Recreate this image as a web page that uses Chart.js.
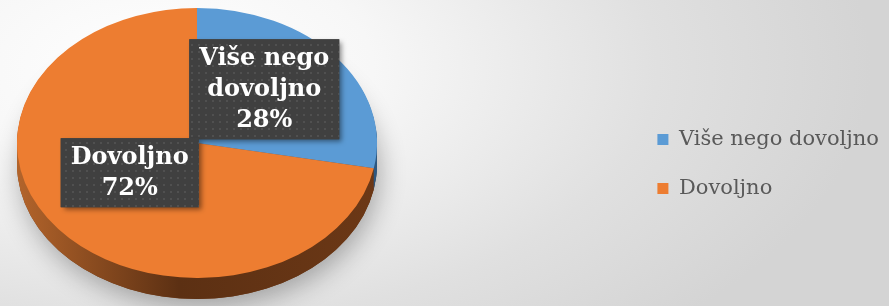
<!DOCTYPE html>
<html>
<head>
<meta charset="utf-8">
<script src="https://cdn.jsdelivr.net/npm/chart.js@4.4.0/dist/chart.umd.min.js"></script>
<style>
  html, body { margin: 0; padding: 0; }
  body {
    width: 889px; height: 306px; overflow: hidden;
    background: radial-gradient(ellipse 80% 120% at 18% 22%, #ffffff 0%, #f7f7f7 30%, #e0e0e0 70%, #d4d4d4 100%);
  }
</style>
</head>
<body>
<canvas id="pie" width="889" height="306"></canvas>
<script>
// data
const categories = ['Više nego dovoljno', 'Dovoljno'];
const percentValues = [28, 72];
const sliceColors = ['#5B9BD5', '#ED7D31'];
const sideStops = [['#4a7fb0', '#2c5780'], ['#b3642b', '#5c3013', '#6c3816']];

// where the tilted pie sits on the page
const PIE = { cx: 197, cy: 143, rx: 180, ry: 135, depth: 21 };
const labelFont = 'bold 24px "DejaVu Serif"';

function sideFill(ctx, i) {
  const g = ctx.createLinearGradient(PIE.cx - PIE.rx, 0, PIE.cx + PIE.rx, 0);
  const stops = sideStops[i];
  if (stops.length === 3) {
    g.addColorStop(0, stops[0]);
    g.addColorStop(0.45, stops[1]);
    g.addColorStop(1, stops[2]);
  } else {
    g.addColorStop(0, stops[0]);
    g.addColorStop(1, stops[1]);
  }
  return g;
}

// little dotted texture for the label boxes
function dotPattern(ctx) {
  const c = document.createElement('canvas');
  c.width = 7; c.height = 7;
  const p = c.getContext('2d');
  p.fillStyle = '#404040';
  p.fillRect(0, 0, 7, 7);
  p.fillStyle = '#505050';
  p.fillRect(2, 2, 2, 2);
  return ctx.createPattern(c, 'repeat');
}

function wrapWords(ctx, text, maxW) {
  const words = text.split(' ');
  const lines = [];
  let cur = '';
  words.forEach(w => {
    const t = cur ? cur + ' ' + w : w;
    if (cur && ctx.measureText(t).width > maxW) { lines.push(cur); cur = w; }
    else cur = t;
  });
  if (cur) lines.push(cur);
  return lines;
}

function drawLabels(chart) {
  const ctx = chart.ctx;
  const meta = chart.getDatasetMeta(0);
  const data = chart.data.datasets[0].data;
  ctx.save();
  ctx.font = labelFont;
  meta.data.forEach((arc, i) => {
    const mid = (arc.startAngle + arc.endAngle) / 2;
    const x = PIE.cx + Math.cos(mid) * PIE.rx * 0.485;
    const y = PIE.cy + Math.sin(mid) * PIE.ry * 0.485 - 12;
    const lines = wrapWords(ctx, chart.data.labels[i], 140).concat([data[i] + '%']);
    const lh = 31;
    const w = Math.max(...lines.map(l => ctx.measureText(l).width)) + 20;
    const h = lines.length * lh + 7;
    const bx = x - w / 2, by = y - h / 2;
    ctx.save();
    ctx.shadowColor = 'rgba(0,0,0,0.45)';
    ctx.shadowBlur = 5;
    ctx.shadowOffsetX = 3;
    ctx.shadowOffsetY = 3;
    ctx.fillStyle = '#404040';
    ctx.fillRect(bx, by, w, h);
    ctx.restore();
    ctx.fillStyle = dotPattern(ctx);
    ctx.fillRect(bx, by, w, h);
    ctx.fillStyle = '#ffffff';
    ctx.textAlign = 'center';
    ctx.textBaseline = 'middle';
    lines.forEach((l, k) => ctx.fillText(l, x, by + 3.5 + lh * k + lh / 2 + 1));
  });
  ctx.restore();
}

const pie3d = {
  id: 'pie3d',
  beforeDatasetsDraw(chart) {
    const ctx = chart.ctx;
    const meta = chart.getDatasetMeta(0);
    const a0 = meta.data[0];
    // soft shadow under the pie
    ctx.save();
    ctx.shadowColor = 'rgba(0,0,0,0.3)';
    ctx.shadowBlur = 26;
    ctx.shadowOffsetX = 3;
    ctx.shadowOffsetY = 8;
    ctx.fillStyle = '#6c3816';
    ctx.beginPath();
    ctx.ellipse(PIE.cx, PIE.cy + PIE.depth, PIE.rx, PIE.ry, 0, 0, Math.PI * 2);
    ctx.fill();
    ctx.restore();
    // side of the pie, stacked layers
    for (let k = PIE.depth; k >= 1; k--) {
      meta.data.forEach((arc, i) => {
        ctx.fillStyle = sideFill(ctx, i);
        ctx.beginPath();
        ctx.moveTo(PIE.cx, PIE.cy + k);
        ctx.ellipse(PIE.cx, PIE.cy + k, PIE.rx, PIE.ry, 0, arc.startAngle, arc.endAngle);
        ctx.closePath();
        ctx.fill();
      });
    }
    // squash the top face into the ellipse
    ctx.save();
    ctx.translate(PIE.cx, PIE.cy);
    ctx.scale(PIE.rx / a0.outerRadius, PIE.ry / a0.outerRadius);
    ctx.translate(-a0.x, -a0.y);
  },
  afterDatasetsDraw(chart) {
    chart.ctx.restore();
    drawLabels(chart);
  }
};

new Chart(document.getElementById('pie'), {
  type: 'pie',
  data: {
    labels: categories,
    datasets: [{
      data: percentValues,
      backgroundColor: sliceColors,
      borderWidth: 0,
      clip: false
    }]
  },
  options: {
    responsive: false,
    animation: false,
    layout: { padding: { top: 22, right: 0, bottom: 0, left: 0 } },
    plugins: {
      tooltip: { enabled: false },
      legend: {
        position: 'right',
        align: 'center',
        labels: {
          boxWidth: 11,
          boxHeight: 11,
          padding: 28,
          color: '#595959',
          font: { family: 'DejaVu Serif', size: 21 }
        }
      }
    }
  },
  plugins: [pie3d]
});
</script>
</body>
</html>
